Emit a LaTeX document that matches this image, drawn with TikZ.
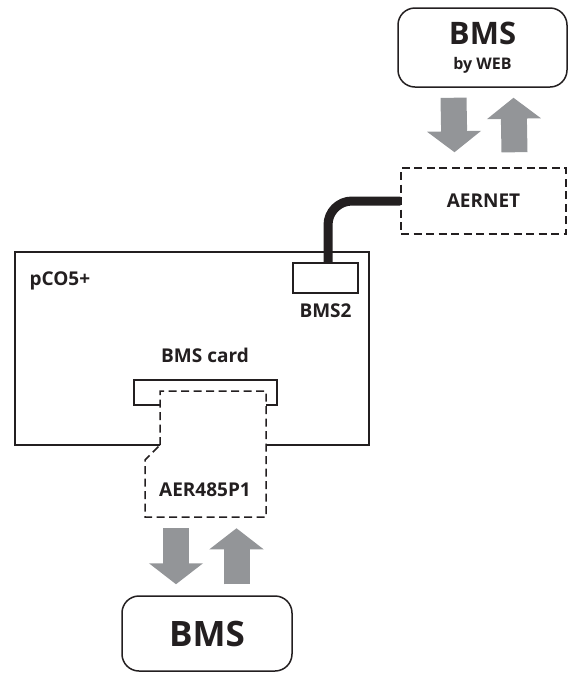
\documentclass[tikz,border=0pt]{standalone}
\usepackage{fontspec}
\setmainfont{Open Sans}
\usetikzlibrary{arrows.meta, positioning}

\definecolor{ink}{RGB}{35,31,32}
\definecolor{arrowgray}{RGB}{147,149,152}

\tikzset{
  bmsbox/.style={draw=ink, line width=1.5pt, rounded corners=17pt, inner sep=0pt},
  dashbox/.style={draw=ink, line width=1.5pt, dash pattern=on 8pt off 4.5pt},
  lbl/.style={text=ink, font=\bfseries\fontsize{19}{21}\selectfont},
  fat/.style={line width=26pt, draw=arrowgray, -{Triangle[length=21pt, width=53pt]}},
  cable/.style={draw=ink, line width=9pt, rounded corners=24pt},
}

\begin{document}
\begin{tikzpicture}[x=1pt, y=-1pt]
  \useasboundingbox (0,0) rectangle (571,673);

  % BMS by WEB and AERNET
  \node[bmsbox, minimum width=169pt, minimum height=79pt, text=ink,
        align=center, font=\bfseries\fontsize{31}{25}\selectfont] (web) at (482.5,47.5)
    {BMS\\{\fontsize{16}{18}\selectfont by WEB}};
  \node[dashbox, lbl, minimum width=165pt, minimum height=66pt,
        inner sep=0pt] (aernet) at (483.5,201) {AERNET};
  \draw[fat] ([xshift=-29pt, yshift=-10pt]web.south) -- ([xshift=-29pt, yshift=15pt]aernet.north);
  \draw[fat] ([xshift=31pt, yshift=15pt]aernet.north) -- ([xshift=31pt, yshift=-10pt]web.south);

  % pCO5+ board (bottom edge left open for the card)
  \draw[ink, line width=1.5pt] (160,445) -- (15,445) -- (15,252) -- (369,252)
    -- (369,445) -- (266,445);
  \node[lbl, anchor=west] (pco) at (26,281) {pCO5+};

  % BMS2 port and cable
  \node[draw=ink, line width=1.5pt, minimum width=65pt, minimum height=30pt,
        inner sep=0pt] (bms2) at (325.5,278) {};
  \node[lbl, below=6pt of bms2] (bms2lbl) {BMS2};
  \draw[cable] (aernet.west) -| ([xshift=2.5pt]bms2.north);

  % BMS card slot and AER485P1 card
  \node[lbl] (slotlbl) at (205,355) {BMS card};
  \draw[ink, line width=1.5pt] (160,405) -- (134,405) -- (134,380) -- (277,380)
    -- (277,405) -- (266,405);
  \draw[dashbox] (160,445) -- (160,391) -- (266,391) -- (266,517) -- (145,517)
    -- (145,460) -- cycle;
  \node[lbl] (card) at (205,490) {AER485P1};

  % BMS
  \node[bmsbox, minimum width=170pt, minimum height=75pt, text=ink,
        font=\bfseries\fontsize{35}{35}\selectfont] (bms) at (207,633.5) {BMS};
  \draw[fat] ([xshift=-31pt, yshift=67pt]bms.north) -- ([xshift=-31pt, yshift=11pt]bms.north);
  \draw[fat] ([xshift=29.5pt, yshift=11pt]bms.north) -- ([xshift=29.5pt, yshift=67pt]bms.north);
\end{tikzpicture}
\end{document}
